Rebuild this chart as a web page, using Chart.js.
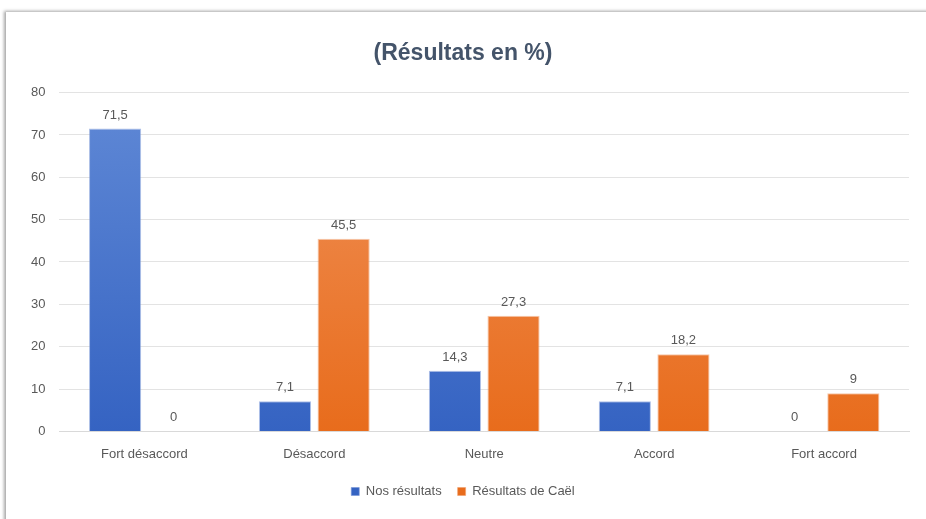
<!DOCTYPE html>
<html>
<head>
<meta charset="utf-8">
<script src="https://cdn.jsdelivr.net/npm/chart.js@4"></script>
<style>
  html, body { margin: 0; padding: 0; background: #fff; }
  body { width: 926px; height: 519px; overflow: hidden; position: relative; }
  #carte {
    position: absolute; left: 6px; top: 12px; width: 940px; height: 530px;
    background: #fff;
    box-shadow: -2px -1px 3px rgba(0,0,0,0.35);
  }
  #zone { position: absolute; left: 0; top: 0; width: 920px; height: 507px; }
</style>
</head>
<body>
<div id="carte"><div id="zone"><canvas id="graphique"></canvas></div></div>
<script>
const categories = ['Fort désaccord', 'Désaccord', 'Neutre', 'Accord', 'Fort accord'];
const nosResultats = [71.5, 7.1, 14.3, 7.1, 0];
const resultatsCael = [0, 45.5, 27.3, 18.2, 9];
const nomsSeries = ['Nos résultats', 'Résultats de Caël'];

const police = "'Liberation Sans Narrow', 'Liberation Sans', sans-serif";

const degrade = (haut, bas) => (context) => {
    const { chart } = context;
    const zone = chart.chartArea;
    if (!zone) return bas;
    const g = chart.ctx.createLinearGradient(0, zone.top, 0, zone.bottom);
    g.addColorStop(0, haut);
    g.addColorStop(1, bas);
    return g;
};

const etiquettes = {
    id: 'etiquettes',
    afterDatasetsDraw(chart) {
        const ctx = chart.ctx;
        ctx.save();
        ctx.font = '13px ' + police;
        ctx.fillStyle = '#595959';
        ctx.textAlign = 'center';
        ctx.textBaseline = 'bottom';
        chart.data.datasets.forEach((ds, i) => {
            chart.getDatasetMeta(i).data.forEach((barre, j) => {
                const texte = String(ds.data[j]).replace('.', ',');
                ctx.fillText(texte, barre.x, barre.y - 7);
            });
        });
        ctx.restore();
    }
};

new Chart(document.getElementById('graphique'), {
    type: 'bar',
    data: {
        labels: categories,
        datasets: [{
            label: nomsSeries[0],
            data: nosResultats,
            backgroundColor: degrade('#6089d6', '#3563c2'),
            borderColor: 'rgba(120,150,215,0.6)',
            borderWidth: 1,
            categoryPercentage: 0.69,
            barPercentage: 0.89
        }, {
            label: nomsSeries[1],
            data: resultatsCael,
            backgroundColor: degrade('#f0925a', '#e86c1c'),
            borderColor: 'rgba(240,160,110,0.6)',
            borderWidth: 1,
            categoryPercentage: 0.69,
            barPercentage: 0.89
        }]
    },
    options: {
        responsive: true,
        maintainAspectRatio: false,
        animation: false,
        layout: { padding: { left: 11, right: 17, top: 14, bottom: 11 } },
        plugins: {
            title: {
                display: true,
                text: '(Résultats en %)',
                color: '#44546a',
                font: { family: police, size: 23, weight: 'bold' },
                padding: { top: 14, bottom: 25 }
            },
            legend: {
                position: 'bottom',
                labels: {
                    color: '#595959',
                    font: { family: police, size: 13 },
                    boxWidth: 8,
                    boxHeight: 8,
                    padding: 16
                }
            },
            tooltip: { enabled: false }
        },
        scales: {
            x: {
                grid: { display: false },
                border: { color: '#d9d9d9' },
                ticks: { color: '#595959', font: { family: police, size: 13 }, padding: 7 }
            },
            y: {
                min: 0,
                max: 80,
                ticks: { stepSize: 10, color: '#595959', font: { family: police, size: 13 }, padding: 14 },
                grid: { color: '#e3e3e3', drawTicks: false },
                border: { display: false }
            }
        }
    },
    plugins: [etiquettes]
});
</script>
</body>
</html>
